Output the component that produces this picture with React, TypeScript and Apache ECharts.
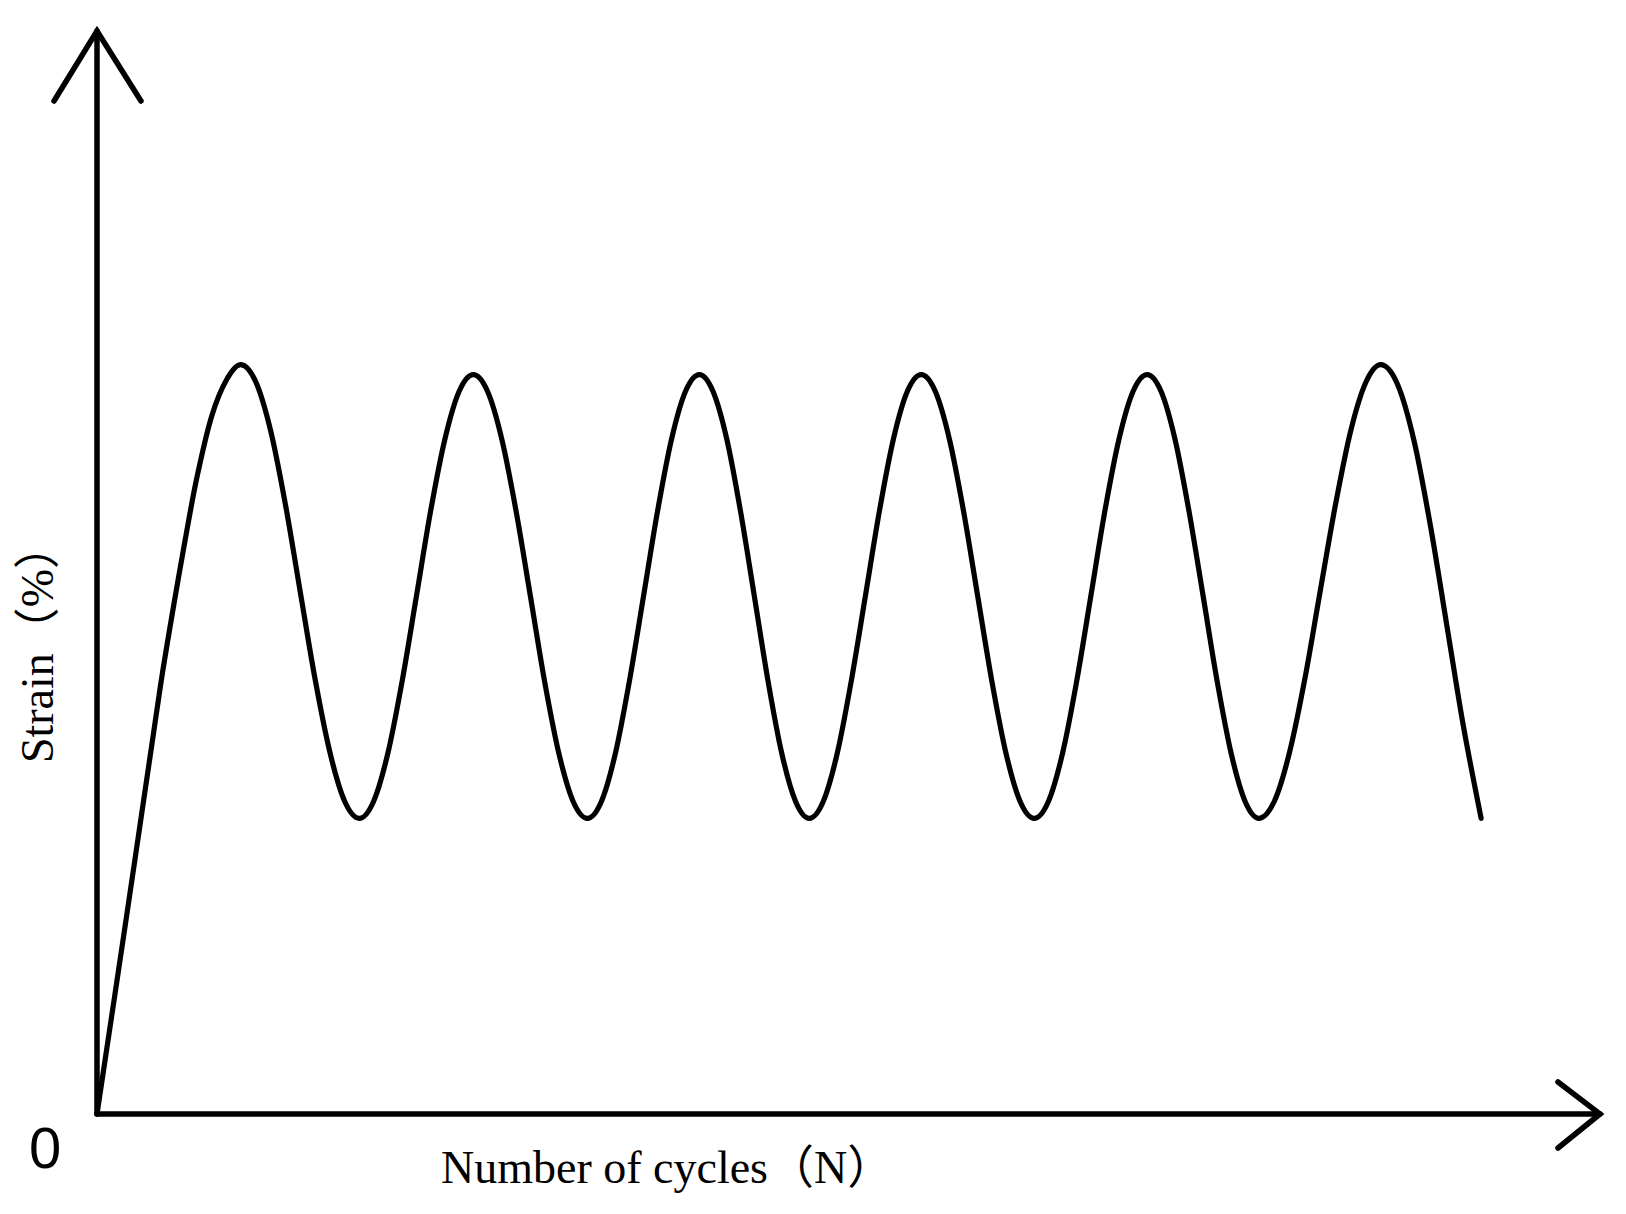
import React, { useEffect, useRef } from "react";
import * as echarts from "echarts";

// Number of cycles (relative units, axis spans 0..100)
const cycles: number[] = [
  0, 1.84, 3.7, 4.36, 5.09, 5.87, 6.66, 7.62, 8.62, 9.59,
  10.57, 11.56, 12.54, 13.52, 14.5, 15.49, 16.47, 17.45,
  18.4, 19.35, 20.3, 21.25, 22.19, 23.14, 24.09, 25.04,
  25.99, 26.94, 27.89, 28.84, 29.78, 30.73, 31.68, 32.63,
  33.56, 34.49, 35.42, 36.36, 37.29, 38.22, 39.15, 40.08,
  40.99, 41.91, 42.82, 43.74, 44.65, 45.56, 46.48, 47.39,
  48.32, 49.25, 50.18, 51.12, 52.05, 52.98, 53.91, 54.84,
  55.78, 56.72, 57.66, 58.6, 59.54, 60.48, 61.42, 62.36,
  63.3, 64.24, 65.18, 66.12, 67.05, 67.99, 68.93, 69.87,
  70.8, 71.73, 72.66, 73.6, 74.53, 75.46, 76.39, 77.32,
  78.34, 79.35, 80.37, 81.38, 82.4, 83.41, 84.43, 85.44,
  86.54, 87.64, 88.73, 89.83, 90.93, 92.09,
];

// Strain (relative units, axis spans 0..100)
const strain: number[] = [
  0, 17.07, 34.59, 40.77, 46.86, 53.04, 58.86, 64.39, 67.8, 69.19,
  67.59, 63.06, 56.26, 48.24, 40.23, 33.43, 28.9, 27.3,
  28.86, 33.3, 39.95, 47.79, 55.62, 62.27, 66.71, 68.27,
  66.71, 62.27, 55.62, 47.78, 39.95, 33.3, 28.86, 27.3,
  28.86, 33.3, 39.95, 47.79, 55.62, 62.27, 66.71, 68.27,
  66.71, 62.27, 55.62, 47.78, 39.95, 33.3, 28.86, 27.3,
  28.86, 33.3, 39.95, 47.79, 55.62, 62.27, 66.71, 68.27,
  66.71, 62.27, 55.62, 47.78, 39.95, 33.3, 28.86, 27.3,
  28.86, 33.3, 39.95, 47.79, 55.62, 62.27, 66.71, 68.27,
  66.71, 62.27, 55.62, 47.78, 39.95, 33.3, 28.86, 27.3,
  28.9, 33.43, 40.23, 48.25, 56.26, 63.06, 67.59, 69.19,
  67.34, 62.09, 54.22, 44.94, 35.66, 27.3,
];

const X_MAX = 100;
const Y_MAX = 100;
const xLabel = "Number of cycles（N）";
const yLabel = "Strain（%）";
const originLabel = "0";

// Catmull-Rom spline through pixel points, as an SVG path string
function splinePath(pts: number[][]): string {
  const n = pts.length;
  if (n < 2) return "";
  let d = `M${pts[0][0]},${pts[0][1]}`;
  for (let i = 0; i < n - 1; i++) {
    const p0 = pts[Math.max(0, i - 1)];
    const p1 = pts[i];
    const p2 = pts[i + 1];
    const p3 = pts[Math.min(n - 1, i + 2)];
    const c1x = p1[0] + (p2[0] - p0[0]) / 6;
    const c1y = p1[1] + (p2[1] - p0[1]) / 6;
    const c2x = p2[0] - (p3[0] - p1[0]) / 6;
    const c2y = p2[1] - (p3[1] - p1[1]) / 6;
    d += ` C${c1x},${c1y} ${c2x},${c2y} ${p2[0]},${p2[1]}`;
  }
  return d;
}

export default function App() {
  const ref = useRef<HTMLDivElement>(null);

  useEffect(() => {
    if (!ref.current) return;
    const chart = echarts.init(ref.current, undefined, { renderer: "svg" });
    const axisLineStyle = { color: "#000", width: 5.5 };
    const data = cycles.map((c, i) => [c, strain[i]]);
    chart.setOption({
      animation: false,
      backgroundColor: "#fff",
      grid: { left: 97, right: 26, top: 31, bottom: 100, containLabel: false },
      xAxis: {
        type: "value",
        min: 0,
        max: X_MAX,
        axisLine: { show: true, lineStyle: axisLineStyle, symbol: "none" },
        axisTick: { show: false },
        axisLabel: { show: false },
        splitLine: { show: false },
      },
      yAxis: {
        type: "value",
        min: 0,
        max: Y_MAX,
        axisLine: { show: true, lineStyle: axisLineStyle, symbol: "none" },
        axisTick: { show: false },
        axisLabel: { show: false },
        splitLine: { show: false },
      },
      series: [
        {
          type: "custom",
          name: "Strain",
          data,
          encode: { x: 0, y: 1 },
          clip: false,
          renderItem: (params: any, api: any) => {
            if (params.dataIndex !== 0) return null;
            const pts = data.map((d) => api.coord(d));
            return {
              type: "path",
              shape: { pathData: splinePath(pts) },
              style: {
                stroke: "#000",
                lineWidth: 5.2,
                fill: "none",
                lineCap: "round",
                lineJoin: "round",
              },
            };
          },
        },
      ],
    });

    const tipY = chart.convertToPixel({ gridIndex: 0 }, [0, Y_MAX]) as number[];
    const tipX = chart.convertToPixel({ gridIndex: 0 }, [X_MAX, 0]) as number[];
    const origin = chart.convertToPixel({ gridIndex: 0 }, [0, 0]) as number[];
    const arrowStyle = { stroke: "#000", lineWidth: 5.5, fill: null, lineCap: "round", lineJoin: "miter" };

    chart.setOption({
      graphic: [
        {
          type: "polyline",
          shape: { points: [[tipY[0] - 43, tipY[1] + 70], [tipY[0], tipY[1]], [tipY[0] + 44, tipY[1] + 70]] },
          style: arrowStyle,
        },
        {
          type: "polyline",
          shape: { points: [[tipX[0] - 42, tipX[1] - 32], [tipX[0], tipX[1]], [tipX[0] - 42, tipX[1] + 34]] },
          style: arrowStyle,
        },
        {
          type: "text",
          x: origin[0] - 52,
          y: origin[1] + 33,
          style: {
            text: originLabel,
            font: "58px 'Liberation Sans', Arial, sans-serif",
            fill: "#000",
            align: "center",
            verticalAlign: "middle",
          },
        },
        {
          type: "text",
          x: 441,
          y: 1167,
          style: {
            text: xLabel,
            font: "46px 'Liberation Serif', 'Times New Roman', 'Noto Sans CJK SC', serif",
            fill: "#000",
            align: "left",
            verticalAlign: "middle",
          },
        },
        {
          type: "text",
          x: 37,
          y: 643,
          rotation: Math.PI / 2,
          style: {
            text: yLabel,
            font: "46px 'Liberation Serif', 'Times New Roman', 'Noto Sans CJK SC', serif",
            fill: "#000",
            align: "center",
            verticalAlign: "middle",
          },
        },
      ],
    });

    return () => chart.dispose();
  }, []);

  return (
    <div
      ref={ref}
      style={{ position: "absolute", left: 0, top: 0, width: 1626, height: 1214, background: "#fff" }}
    />
  );
}
